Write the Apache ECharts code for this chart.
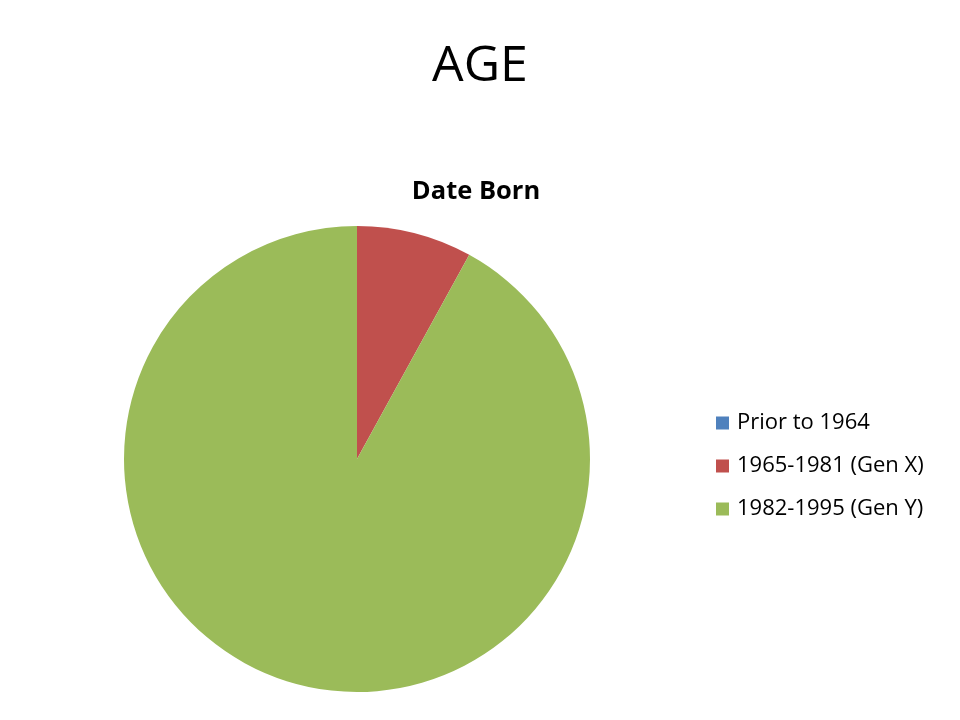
<!DOCTYPE html>
<html>
<head>
<meta charset="utf-8">
<style>html,body{margin:0;padding:0;background:#fff;}#c{width:960px;height:720px;}</style>
<script src="https://cdn.jsdelivr.net/npm/echarts@6/dist/echarts.min.js"></script>
</head>
<body>
<div id="c"></div>
<script>
var categories = ['Prior to 1964', '1965-1981 (Gen X)', '1982-1995 (Gen Y)'];
var values = [0, 8, 92];
var colors = ['#4F81BD', '#C0504D', '#9BBB59'];

var chart = echarts.init(document.getElementById('c'), null, {renderer: 'canvas'});
chart.setOption({
  backgroundColor: '#ffffff',
  animation: false,
  title: [
    {text: 'AGE', left: 'center', top: 37,
     textStyle: {fontFamily: 'Open Sans', fontSize: 50, fontWeight: 'normal', color: '#000'}},
    {text: 'Date Born', left: 471, textAlign: 'center', top: 174,
     textStyle: {fontFamily: 'Open Sans', fontSize: 25.5, fontWeight: 'bold', color: '#000'}}
  ],
  legend: {
    orient: 'vertical',
    left: 716,
    top: 412,
    padding: 0,
    itemWidth: 13,
    itemHeight: 13,
    itemGap: 21,
    icon: 'rect',
    textStyle: {fontFamily: 'Open Sans', fontSize: 22, color: '#000', lineHeight: 22, padding: [0,0,0,3]},
    data: categories
  },
  series: [{
    type: 'pie',
    center: [357, 459],
    radius: 233,
    startAngle: 90,
    clockwise: true,
    label: {show: false},
    labelLine: {show: false},
    emphasis: {disabled: true},
    itemStyle: {borderWidth: 0},
    data: categories.map(function (n, i) {
      return {name: n, value: values[i], itemStyle: {color: colors[i]}};
    })
  }]
});
</script>
</body>
</html>
